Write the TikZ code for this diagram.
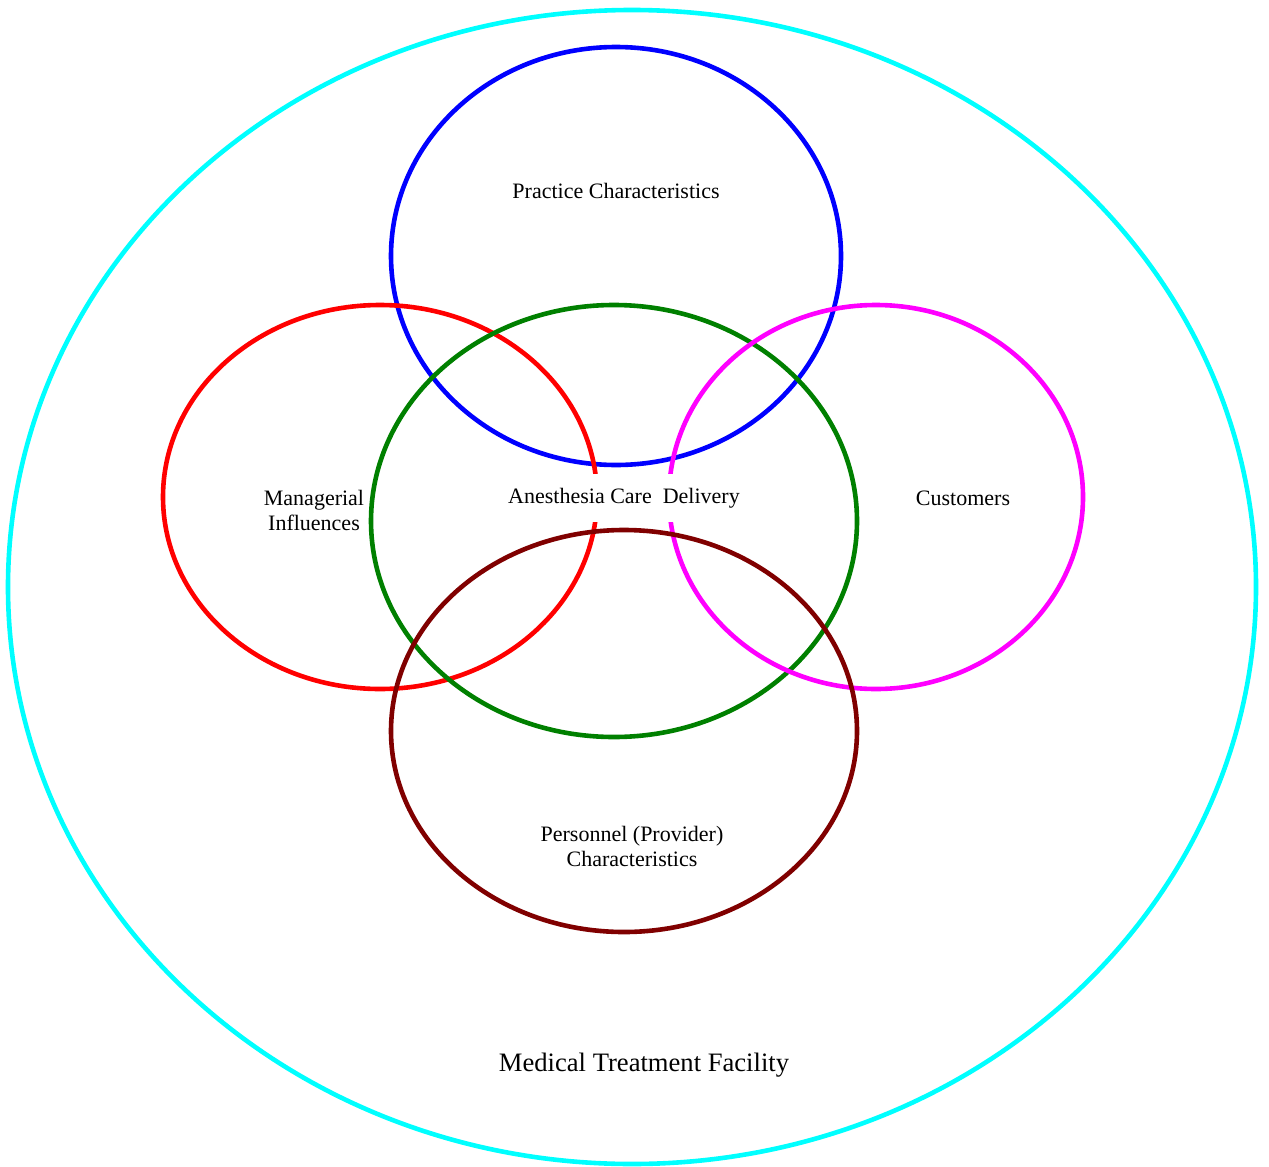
\documentclass[tikz,border=0pt]{standalone}
\usepackage{fontspec}
\setmainfont{Liberation Serif}
\definecolor{ringcyan}{RGB}{0,255,255}
\definecolor{ringblue}{RGB}{0,0,255}
\definecolor{ringred}{RGB}{255,0,0}
\definecolor{ringgreen}{RGB}{0,128,0}
\definecolor{ringmagenta}{RGB}{255,0,255}
\definecolor{ringmaroon}{RGB}{128,0,0}
\begin{document}
\begin{tikzpicture}[x=0.5pt,y=-0.5pt,
    ring/.style={line width=2.3pt},
    label/.style={font=\fontsize{11}{12.5}\selectfont,align=center}]
  \useasboundingbox (0,0) rectangle (1269,1167);
  \draw[ring,ringcyan] (632,587) ellipse (624 and 577);
  \draw[ring,ringblue] (616,256) ellipse (225 and 209);
  \draw[ring,ringred] (380,497) ellipse (217 and 192);
  \draw[ring,ringgreen] (614,521) ellipse (243 and 216);
  \draw[ring,ringmagenta] (876,497) ellipse (207 and 192);
  \draw[ring,ringmaroon] (624,731) ellipse (233 and 201);
  \node[label] (practice) at (616,191) {Practice Characteristics};
  \node[label] (managerial) at (314,510) {Managerial\\Influences};
  \node[label,fill=white,inner xsep=2pt,inner ysep=7pt] (care) at (624,498) {Anesthesia Care\ \ Delivery};
  \node[label] (customers) at (963,498) {Customers};
  \node[label] (personnel) at (632,846) {Personnel (Provider)\\Characteristics};
  \node[font=\fontsize{13.3}{15}\selectfont] (facility) at (644,1065) {Medical Treatment Facility};
\end{tikzpicture}
\end{document}
